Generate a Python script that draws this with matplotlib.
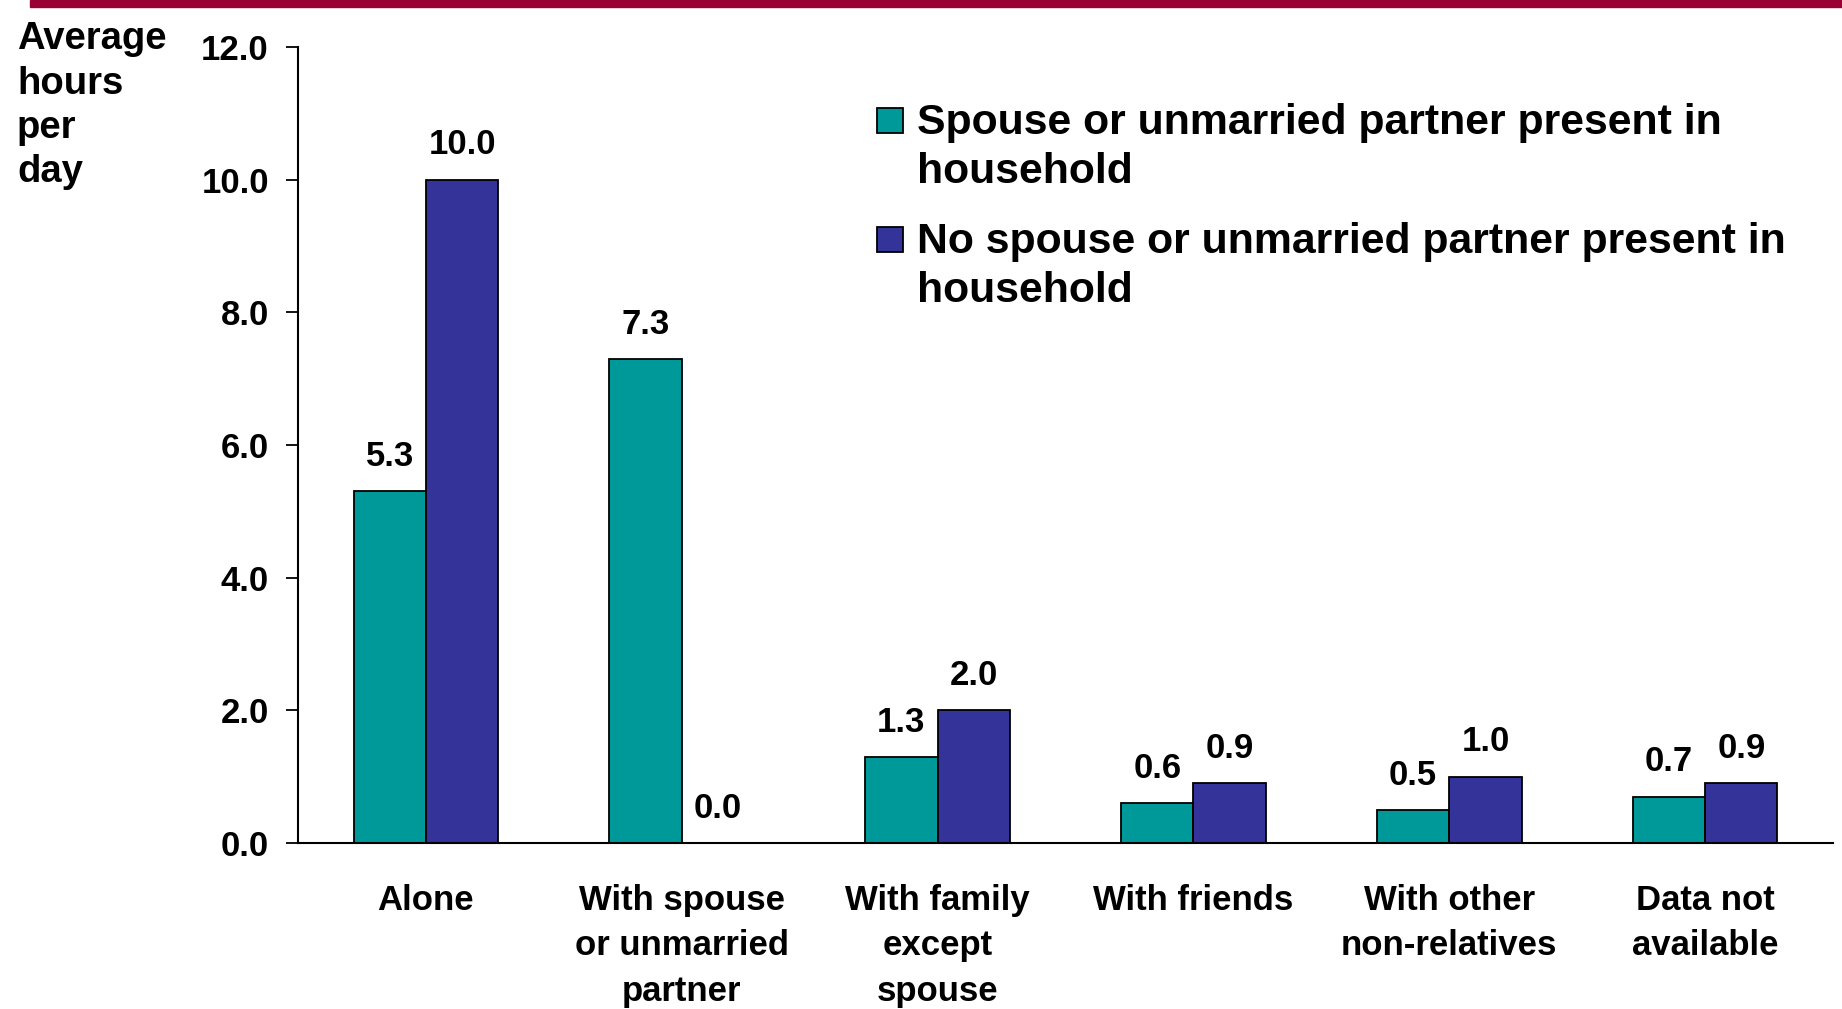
import matplotlib.pyplot as plt
import numpy as np

plt.rcParams['font.family'] = ['Liberation Sans', 'DejaVu Sans']
plt.rcParams['font.weight'] = 'bold'

categories = ['Alone', 'With spouse\nor unmarried\npartner', 'With family\nexcept\nspouse',
              'With friends', 'With other\nnon-relatives', 'Data not\navailable']
with_partner = [5.3, 7.3, 1.3, 0.6, 0.5, 0.7]
no_partner = [10.0, 0.0, 2.0, 0.9, 1.0, 0.9]
series_names = ['Spouse or unmarried partner present in\nhousehold',
                'No spouse or unmarried partner present in\nhousehold']
colors = ['#009999', '#333399']

W, H = 1842, 1009
fig = plt.figure(figsize=(W / 100, H / 100), dpi=100)
ax = fig.add_axes([298 / W, 1 - 843 / H, (1833 - 298) / W, (843 - 47) / H])

x = np.arange(len(categories))
w = 0.283
b1 = ax.bar(x - w / 2, with_partner, w, color=colors[0], edgecolor='black', linewidth=1.3)
b2 = ax.bar(x + w / 2, no_partner, w, color=colors[1], edgecolor='black', linewidth=1.3)

for bars, vals in ((b1, with_partner), (b2, no_partner)):
    for r, v in zip(bars, vals):
        ax.annotate('%.1f' % v, (r.get_x() + r.get_width() / 2, v),
                    xytext=(0, 25), textcoords='offset points',
                    ha='center', va='center', fontsize=25, fontweight='bold')

ax.set_xlim(-0.5, 5.5)
ax.set_ylim(0, 12)
yt = np.arange(0, 12.1, 2)
ax.set_yticks(yt)
ax.set_yticklabels(['%.1f' % t for t in yt])
ax.set_xticks(x)
ax.set_xticklabels(categories, linespacing=1.48)
ax.tick_params(axis='y', length=9, width=1.3, pad=12, labelsize=25)
ax.tick_params(axis='x', length=0, pad=29.5, labelsize=25)
for s in ['top', 'right']:
    ax.spines[s].set_visible(False)
for s in ['left', 'bottom']:
    ax.spines[s].set_linewidth(1.5)

# axis title, top left (va='baseline' pins the last line)
fig.text(17 / W, 1 - 182.5 / H, 'Average\nhours\nper\nday', ha='left', va='baseline',
         fontsize=27.5, fontweight='bold', linespacing=1.30)

# legend, square aligned with first line of each entry
legend_rows = [(108, 183), (227, 302)]
for (sq_top, base), c, name in zip(legend_rows, colors, series_names):
    fig.add_artist(plt.Rectangle((877 / W, 1 - (sq_top + 25) / H), 26 / W, 25 / H,
                                 transform=fig.transFigure, facecolor=c,
                                 edgecolor='black', linewidth=1.3))
    fig.text(917 / W, 1 - base / H, name, ha='left', va='baseline',
             fontsize=30.8, fontweight='bold', linespacing=1.29)

# red rule along the top
fig.add_artist(plt.Rectangle((30 / W, 1 - 7 / H), 1, 7 / H,
                             transform=fig.transFigure, color='#990033'))

fig.savefig('out.png', dpi=100)
